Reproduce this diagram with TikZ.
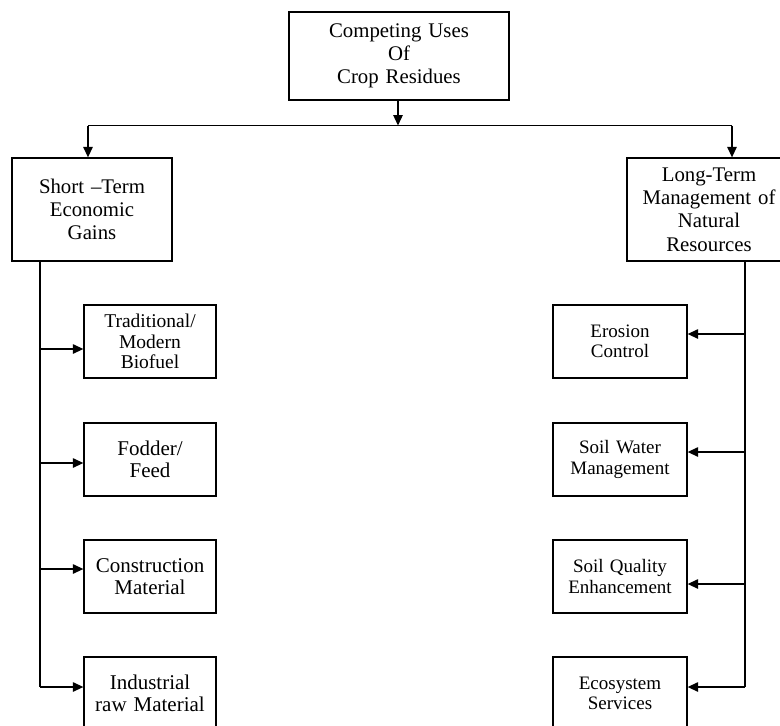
\documentclass[tikz,border=0pt]{standalone}
\usepackage{fontspec}
\setmainfont{Liberation Serif}
\usetikzlibrary{arrows.meta}
\begin{document}
\begin{tikzpicture}[x=1pt,y=-1pt,
  line width=1.3pt,
  box/.style={draw, rectangle, inner sep=0pt, align=center},
  headbox/.style={box, font=\fontsize{20.8}{23.3}\selectfont},
  leftbox/.style={box, minimum width=132pt, minimum height=73pt, text width=128pt,
                  font=\fontsize{21}{22.5}\selectfont},
  rightbox/.style={box, minimum width=134pt, minimum height=73pt, text width=130pt,
                   font=\fontsize{19}{20.5}\selectfont},
  arr/.style={-{Triangle[length=10.5pt,width=9.5pt]}}]
\clip (0,0) rectangle (780,726);

% headings
\node[headbox, minimum width=220pt, minimum height=88pt, text width=210pt]
  (top) at (399,56) {Competing Uses\\Of\\Crop Residues};
\node[headbox, minimum width=160pt, minimum height=103pt, text width=150pt]
  (short) at (92,209.5) {Short \textendash Term\\Economic\\Gains};
\node[headbox, minimum width=164pt, minimum height=103pt, text width=156pt]
  (long) at (709,209.5) {Long-Term\\Management of\\Natural\\Resources};

% short-term uses
\node[leftbox, font=\fontsize{19.5}{20.5}\selectfont] (b1) at (150,341.5) {Traditional/\\Modern\\Biofuel};
\node[leftbox] (b2) at (150,459.5) {Fodder/\\Feed};
\node[leftbox] (b3) at (150,576.5) {Construction\\Material};
\node[leftbox] (b4) at (150,693.5) {Industrial\\raw Material};

% long-term uses
\node[rightbox] (c1) at (620,341.5) {Erosion\\Control};
\node[rightbox] (c2) at (620,459.5) {Soil Water\\Management};
\node[rightbox] (c3) at (620,576.5) {Soil Quality\\Enhancement};
\node[rightbox] (c4) at (620,693.5) {Ecosystem\\Services};

% split below the top box
\coordinate (hl) at (88,125.5);
\coordinate (hr) at (732,125.5);
\draw[arr] (top.south -| 398,0) -- (398,125.5);
\draw (hl) -- (hr);
\draw[arr] (hl) -- (hl |- short.north);
\draw[arr] (hr) -- (hr |- long.north);

% left trunk
\coordinate (j1) at (40,349);
\coordinate (j2) at (40,463);
\coordinate (j3) at (40,569);
\coordinate (j4) at (40,687);
\draw (short.south -| j1) -- (j4);
\draw[arr] (j1) -- (j1 -| b1.west);
\draw[arr] (j2) -- (j2 -| b2.west);
\draw[arr] (j3) -- (j3 -| b3.west);
\draw[arr] (j4) -- (j4 -| b4.west);

% right trunk
\coordinate (k1) at (745,334);
\coordinate (k2) at (745,452);
\coordinate (k3) at (745,584);
\coordinate (k4) at (745,687);
\draw (long.south -| k1) -- (k4);
\draw[arr] (k1) -- (k1 -| c1.east);
\draw[arr] (k2) -- (k2 -| c2.east);
\draw[arr] (k3) -- (k3 -| c3.east);
\draw[arr] (k4) -- (k4 -| c4.east);
\end{tikzpicture}
\end{document}
